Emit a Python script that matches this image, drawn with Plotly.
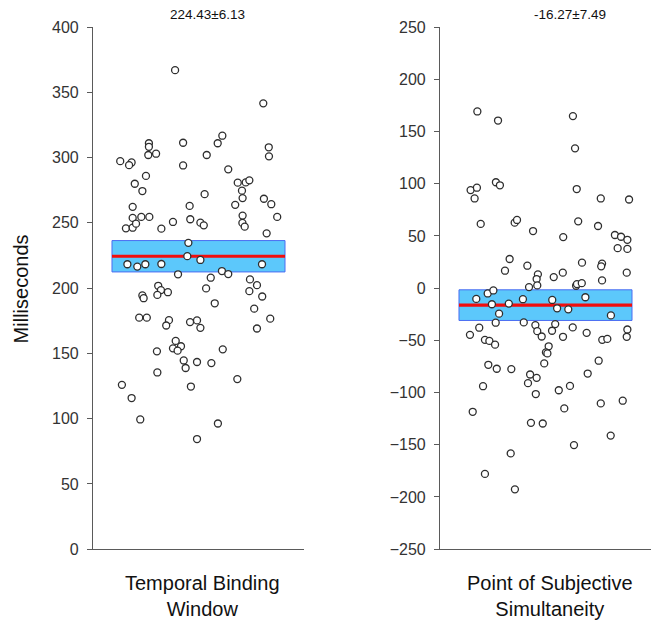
import plotly.graph_objects as go

# ---------------- data ----------------
categories = ["Temporal Binding<br>Window", "Point of Subjective<br>Simultaneity"]
means = [224.43, -16.27]
sems = [6.13, 7.49]
stat_labels = ["224.43±6.13", "-16.27±7.49"]

tbw_values = [367, 341.6, 316.8, 311, 311.4, 311, 308.3, 302, 303, 302, 307.9, 301, 297.3, 296.3,
              294.2, 294, 291, 286, 280, 274.4, 280.8, 281, 282.6, 274.7, 272, 269, 268.5, 264.3,
              263.8, 262.3, 263, 253.8, 254.6, 254.6, 245.8, 246.3, 249.4, 245.6, 250.7, 252.8,
              250.2, 248.1, 255.6, 250, 247.1, 254.6, 242, 234.7, 224.5, 221.6, 218.3, 216.5,
              218.3, 218.5, 218.3, 210.6, 213.1, 210.8, 208, 199.8, 206.7, 202.3, 197.7, 193.6,
              201.8, 198.5, 196.9, 194.8, 194.4, 192.3, 188.4, 184.3, 177.4, 177.4, 175.5, 171.4,
              174, 175.3, 169.6, 176.6, 169.1, 159.6, 153.9, 155.5, 152.1, 151.6, 153.1, 144.6,
              143.4, 142.6, 138.8, 135.4, 130.3, 125.9, 124.6, 115.8, 99.4, 96.3, 84.4]
tbw_jitter = [-0.111, 0.307, 0.113, 0.091, -0.073, -0.235, -0.235, -0.238, -0.201, 0.039, 0.333,
              0.334, -0.371, -0.317, -0.329, -0.073, 0.141, -0.249, -0.302, -0.266, 0.186, 0.224,
              0.241, 0.206, 0.029, 0.209, 0.310, 0.345, 0.174, -0.312, -0.042, -0.312, -0.271,
              -0.233, -0.344, -0.312, -0.296, -0.176, -0.121, -0.039, 0.009, 0.025, 0.209, 0.208,
              0.219, 0.373, 0.323, -0.048, -0.053, 0.009, -0.337, -0.290, -0.252, -0.176, 0.301,
              -0.097, 0.111, 0.141, 0.058, 0.036, 0.244, 0.277, 0.241, 0.302, -0.191, -0.178,
              -0.145, -0.195, -0.266, -0.260, 0.077, 0.264, -0.281, -0.245, -0.140, -0.153,
              -0.040, -0.007, 0.009, 0.340, 0.277, -0.108, -0.121, -0.083, -0.099, -0.197, 0.115,
              -0.070, -0.007, 0.061, -0.061, -0.195, 0.184, -0.363, -0.036, -0.317, -0.276, 0.092,
              -0.007]

pss_values = [169.2, 160.5, 164.8, 133.9, 93.9, 96.2, 85.9, 101.4, 98.5, 94.9, 85.9, 84.9, 61.5,
              62.7, 65.3, 54.7, 64, 59.5, 48.9, 50.9, 49.2, 46.3, 38.3, 37.6, 27.9, 21.5, 24.4,
              23.5, 20.9, 16.7, 14.8, 13.2, 8.7, 10.6, 14.8, 2.3, 3.9, 4.8, 1.0, 2.6, 7.4, -5.1,
              -2.2, -10.3, -15.4, -24.4, -14.8, -10.6, -11.3, -19.3, -20.3, -8.7, -26.1, -44.7,
              -37.9, -33.1, -32.8, -49.5, -50.5, -54.1, -35.4, -41.2, -46.3, -40.8, -34.4, -46.6,
              -37.6, -42.8, -49.5, -48.6, -46.6, -39.6, -55.7, -61.5, -62.5, -69.5, -73.4, -77.2,
              -77.5, -82.7, -85.9, -91, -101.4, -72.1, -81.8, -93.9, -97.8, -93.6, -110.4, -107.8,
              -115.2, -118.4, -129, -129.6, -141.2, -150.3, -158.3, -177.9, -192.7]
pss_jitter = [-0.323, -0.225, 0.130, 0.140, -0.355, -0.325, -0.336, -0.235, -0.216, 0.148, 0.262,
              0.396, -0.307, -0.146, -0.135, -0.059, 0.155, 0.249, 0.084, 0.329, 0.358, 0.388,
              0.342, 0.388, -0.170, -0.086, 0.173, 0.268, 0.264, -0.192, 0.385, -0.036, -0.042,
              0.039, 0.082, 0.145, 0.149, 0.172, -0.078, -0.039, 0.268, -0.274, -0.247, -0.328,
              -0.254, -0.220, -0.174, -0.107, 0.032, 0.055, 0.108, 0.189, 0.310, -0.358, -0.314,
              -0.236, -0.103, -0.287, -0.266, -0.239, -0.048, -0.039, -0.018, 0.031, 0.046, 0.083,
              0.129, 0.195, 0.269, 0.293, 0.385, 0.388, 0.015, 0.002, 0.009, 0.252, -0.271,
              -0.231, -0.162, -0.073, -0.042, -0.083, -0.046, -0.006, 0.200, -0.296, 0.063, 0.116,
              0.262, 0.366, 0.089, -0.345, -0.069, -0.013, 0.309, 0.135, -0.165, -0.287, -0.145]

y_ranges = [[0, 400], [-250, 250]]
y_ticks = [list(range(0, 401, 50)), list(range(-250, 251, 50))]

# ---------------- style ----------------
FONT = "Liberation Sans, Arial, Helvetica, sans-serif"
W, H = 652, 620


def py(px):
    # empirical vertical mapping of pixel row to paper fraction
    return 1 - (px - 10) / 600


x_domains = [[93 / W, 304 / W], [440 / W, 651 / W]]
y_domain = [py(548.5), py(29)]
box_half = 0.41
axis_color = "#5a5a5a"

fig = go.Figure()
series = [(tbw_jitter, tbw_values), (pss_jitter, pss_values)]

for i, (jit, vals) in enumerate(series):
    xa = "x" if i == 0 else "x2"
    ya = "y" if i == 0 else "y2"
    ci = 1.96 * sems[i]
    fig.add_shape(type="rect", xref=xa, yref=ya, x0=-box_half, x1=box_half,
                  y0=means[i] - ci, y1=means[i] + ci,
                  fillcolor="#5cc8fb", line=dict(color="#4a6cf2", width=1), layer="below")
    fig.add_shape(type="line", xref=xa, yref=ya, x0=-box_half, x1=box_half,
                  y0=means[i], y1=means[i],
                  line=dict(color="#f20d0d", width=3.2), layer="below")
    fig.add_trace(go.Scatter(
        x=jit, y=vals, mode="markers", xaxis=xa, yaxis=ya, showlegend=False,
        marker=dict(size=7, color="white", line=dict(color="#2e2e2e", width=1.3)),
        cliponaxis=False))

common_x = dict(range=[-0.5, 0.5], showline=True, linecolor=axis_color, linewidth=1.2,
                showticklabels=False, ticks="", showgrid=False, zeroline=False, fixedrange=True)
fig.update_layout(
    xaxis=dict(domain=x_domains[0], anchor="y", **common_x),
    xaxis2=dict(domain=x_domains[1], anchor="y2", **common_x),
)
for i, name in enumerate(["yaxis", "yaxis2"]):
    fig.layout[name] = dict(
        domain=y_domain, range=y_ranges[i], tickvals=y_ticks[i],
        anchor="x" if i == 0 else "x2",
        showline=True, linecolor=axis_color, linewidth=1.2,
        ticks="outside", ticklen=5, tickcolor=axis_color, tickwidth=1,
        ticklabelstandoff=5,
        tickfont=dict(family=FONT, size=16, color="#333333"),
        showgrid=False, zeroline=False,
    )

annotations = []
title_x = [207, 570]
label_x = [202, 550]
for i in range(2):
    annotations.append(dict(text=stat_labels[i], x=title_x[i] / W, y=py(16),
                            xref="paper", yref="paper", showarrow=False,
                            xanchor="center", yanchor="middle",
                            font=dict(family=FONT, size=13.5, color="#111111")))
    annotations.append(dict(text=categories[i], x=label_x[i] / W, y=py(569),
                            xref="paper", yref="paper", showarrow=False,
                            xanchor="center", yanchor="top",
                            font=dict(family=FONT, size=20, color="#111111")))
annotations.append(dict(text="Milliseconds", x=21 / W, y=py(290), xref="paper",
                        yref="paper", showarrow=False, textangle=-90,
                        xanchor="center", yanchor="middle",
                        font=dict(family=FONT, size=20, color="#111111")))

fig.update_layout(
    width=W, height=H, margin=dict(l=0, r=0, t=0, b=0),
    paper_bgcolor="white", plot_bgcolor="white",
    annotations=annotations,
    font=dict(family=FONT),
)

fig.write_html("out.html", config={"displayModeBar": False})
